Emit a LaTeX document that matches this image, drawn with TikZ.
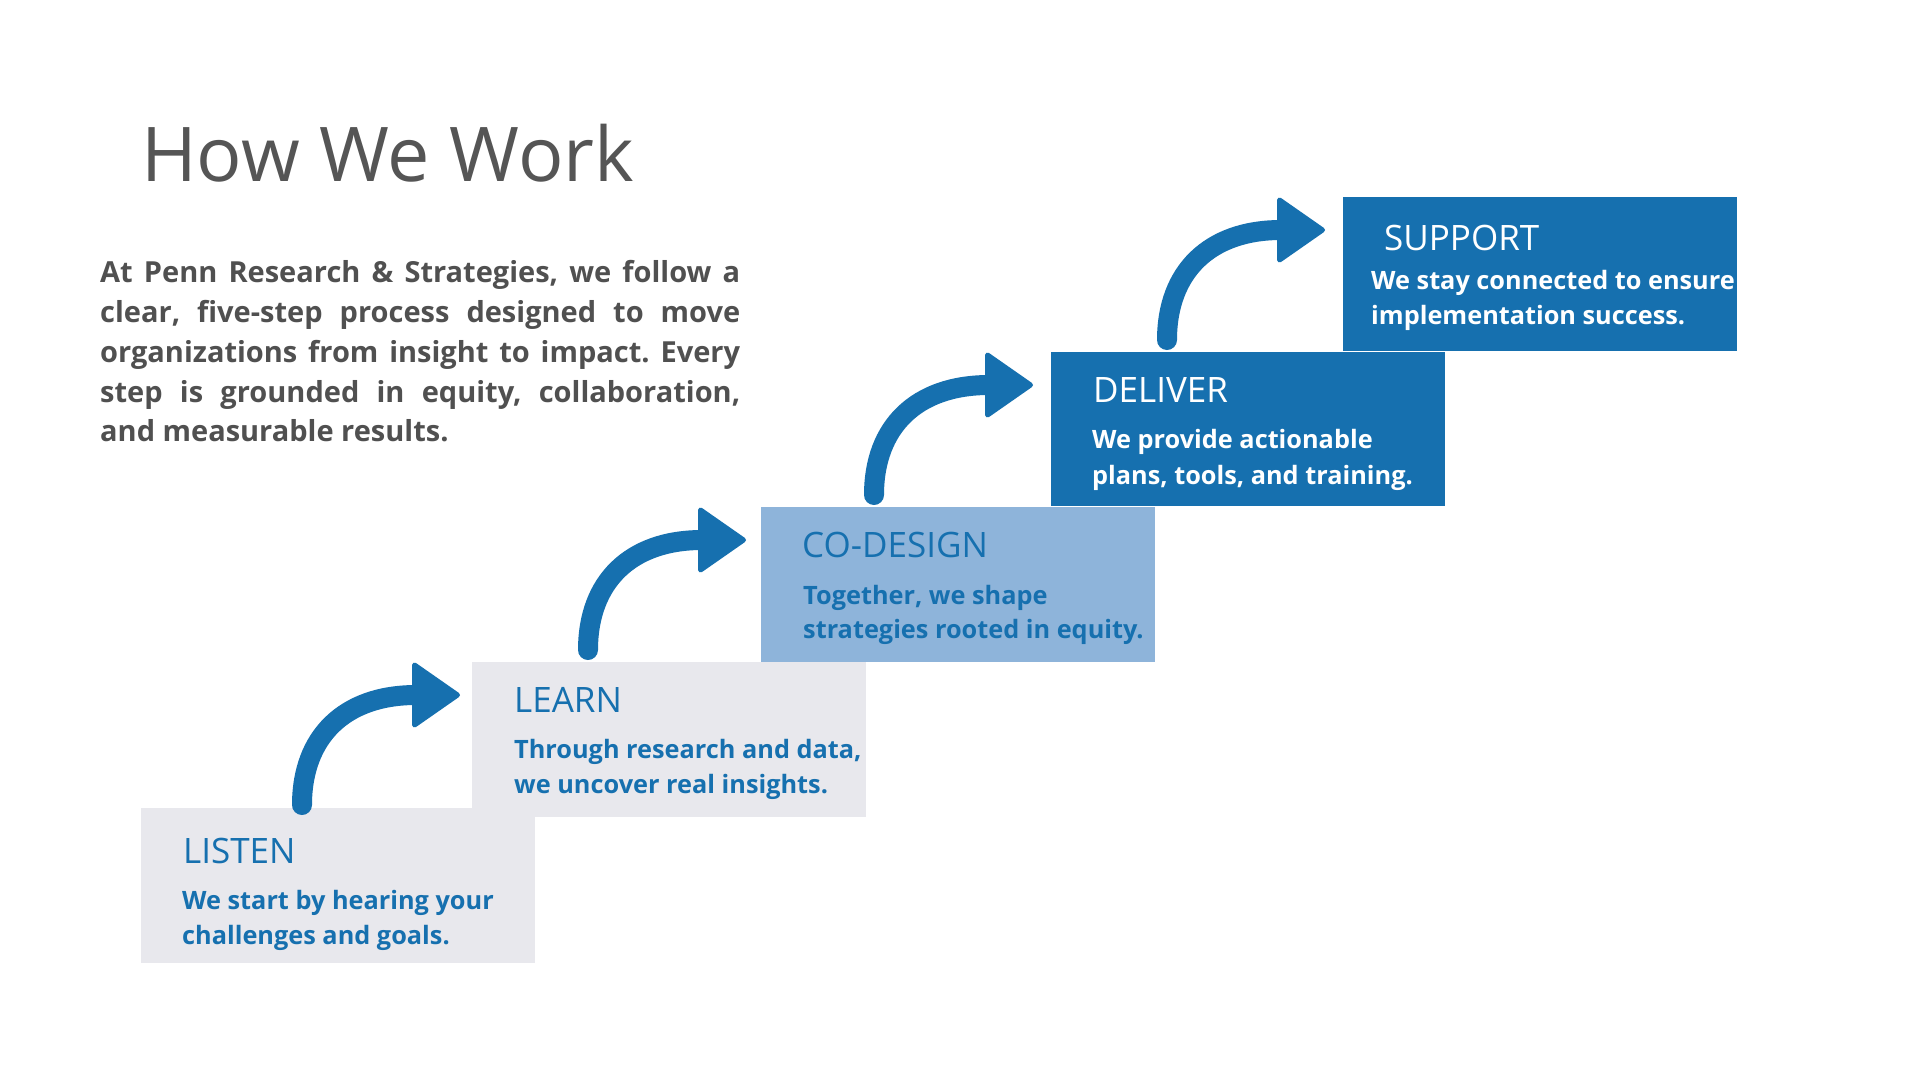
\documentclass[tikz,border=0pt]{standalone}
\usepackage{fontspec}
\setmainfont{Open Sans}
\frenchspacing
\definecolor{mainblue}{HTML}{1670AF}
\definecolor{lightgrey}{HTML}{E8E8ED}
\definecolor{lightblue}{HTML}{8EB4DA}
\definecolor{titlegrey}{HTML}{555555}
\definecolor{bodygrey}{HTML}{505050}
\tikzset{
  stepbox/.style={anchor=north west, minimum width=394pt, minimum height=155pt, inner sep=0pt, outer sep=0pt, draw=none},
  steptitle/.style={anchor=base west, inner sep=0pt, font=\fontsize{35}{40}\selectfont},
  stepdesc/.style={anchor=base west, inner sep=0pt, font=\bfseries\fontsize{25.3}{30}\selectfont},
  bodyline/.style={anchor=base west, inner sep=0pt, text=bodygrey, font=\bfseries\fontsize{29}{40}\selectfont},
  arrowline/.style={draw=mainblue, line width=20pt, line cap=round},
  arrowhead/.style={fill=mainblue, draw=mainblue, line width=5pt, line join=round}
}
\newcommand{\stparrow}[4]{%
  % #1 name, #2 stem x, #3 horizontal y, #4 head base x
  \coordinate (#1s) at (#2,#3+110);
  \coordinate (#1e) at (#4+4,#3);
  \draw[arrowline] (#1s) .. controls (#2,#3+42) and (#2+42,#3) .. (#1e);
  \path[arrowhead] (#4+2.5,#3-30) -- (#4+45.5,#3) -- (#4+2.5,#3+30) -- cycle;
}
\begin{document}
\begin{tikzpicture}[x=1pt,y=-1pt]
\fill[white] (0,0) rectangle (1920,1080);
\useasboundingbox (0,0) rectangle (1920,1080);

% title
\node[anchor=base west, inner sep=0pt, text=titlegrey, font=\fontsize{75.5}{90}\selectfont] (title) at (141,181) {How We Work};

% paragraph
\node[bodyline] (p1) at (100,282) {\makebox[640pt][s]{At Penn Research \& Strategies, we follow a}};
\node[bodyline] (p2) at (100,322) {\makebox[640pt][s]{clear, five-step process designed to move}};
\node[bodyline] (p3) at (100,362) {\makebox[640pt][s]{organizations from insight to impact. Every}};
\node[bodyline] (p4) at (100,402) {\makebox[640pt][s]{step is grounded in equity, collaboration,}};
\node[bodyline] (p5) at (100,441) {and measurable results.};

% boxes
\node[stepbox, fill=lightgrey] (listen) at (141,808) {};
\node[stepbox, fill=lightgrey] (learn) at (472,662) {};
\node[stepbox, fill=lightblue] (codesign) at (761,507) {};
\node[stepbox, fill=mainblue, minimum height=154pt] (deliver) at (1051,352) {};
\node[stepbox, fill=mainblue, minimum height=154pt] (support) at (1343,197) {};

% box texts
\node[steptitle, text=mainblue] (t1) at (183,863) {LISTEN};
\node[stepdesc, text=mainblue] (d1a) at (182,909) {We start by hearing your};
\node[stepdesc, text=mainblue] (d1b) at (182,944) {challenges and goals.};

\node[steptitle, text=mainblue] (t2) at (514,712) {LEARN};
\node[stepdesc, text=mainblue] (d2a) at (514,758) {Through research and data,};
\node[stepdesc, text=mainblue] (d2b) at (514,793) {we uncover real insights.};

\node[steptitle, text=mainblue] (t3) at (802,557) {CO-DESIGN};
\node[stepdesc, text=mainblue] (d3a) at (803,604) {Together, we shape};
\node[stepdesc, text=mainblue] (d3b) at (803,638) {strategies rooted in equity.};

\node[steptitle, text=white] (t4) at (1093,402) {DELIVER};
\node[stepdesc, text=white] (d4a) at (1092,448) {We provide actionable};
\node[stepdesc, text=white] (d4b) at (1092,484) {plans, tools, and training.};

\node[steptitle, text=white] (t5) at (1384,250) {SUPPORT};
\node[stepdesc, text=white] (d5a) at (1371,289) {We stay connected to ensure};
\node[stepdesc, text=white] (d5b) at (1371,324) {implementation success.};

% arrows
\stparrow{aa}{302}{695}{412}
\stparrow{ab}{588}{540}{698}
\stparrow{ac}{874}{385}{985}
\stparrow{ad}{1167}{230}{1277}
\end{tikzpicture}
\end{document}
